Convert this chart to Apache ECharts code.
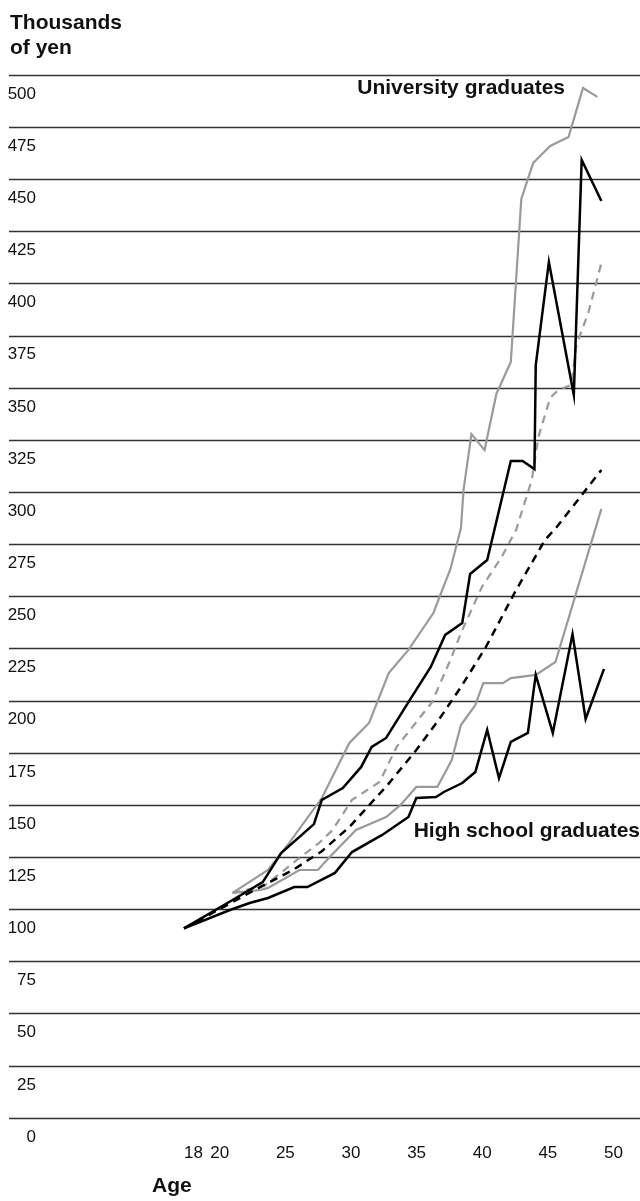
<!DOCTYPE html>
<html>
<head>
<meta charset="utf-8">
<script src="https://cdn.jsdelivr.net/npm/echarts@6/dist/echarts.min.js"></script>
<style>
  html, body { margin: 0; padding: 0; background: #fff; }
  #chart { width: 640px; height: 1201px; }
</style>
</head>
<body>
<div id="chart"></div>
<script>
// ---- Data ----
const yTicks = [0, 25, 50, 75, 100, 125, 150, 175, 200, 225, 250, 275, 300, 325, 350, 375, 400, 425, 450, 475, 500];
const xTickLabels = [18, 20, 25, 30, 35, 40, 45, 50];

// High school graduates (black)
const hsLarge = [[18,100],[21.7,113.6],[24.0,122.2],[25.4,136.1],[27.9,150],[28.5,161.6],[30.1,167.3],[31.5,177.4],[32.3,187],[33.4,191.3],[35.1,208.5],[36.8,225.3],[37.9,240.7],[39.2,246.4],[39.8,269.9],[41.1,276.6],[42.9,324.1],[43.8,324.1],[44.7,320.2],[44.8,370.1],[45.8,419.5],[47.7,355.7],[48.3,468.4],[49.8,448.7]];
const hsAverage = [[18,100],[24.0,120.5],[26.3,128],[28.5,137],[30.6,148.6],[33.5,168.7],[35.7,185.5],[37.4,199.9],[39.1,215.7],[41.0,234.9],[43.3,262.2],[45.5,286.2],[46.4,292.4],[49.8,319.8]];
const hsSmall = [[18,100],[21.5,108.8],[23.0,112.2],[24.4,114.6],[26.4,119.8],[27.4,119.8],[29.5,126.6],[30.8,136.6],[33.1,144.8],[35.1,153.4],[35.7,162.5],[37.2,163],[37.8,165.4],[39.2,169.7],[40.2,175],[41.1,195.1],[42.0,172],[42.9,189.4],[44.2,193.7],[44.8,221.5],[46.1,193.7],[47.6,241.1],[48.6,200.4],[50.0,224.4]];

// University graduates (grey)
const univLarge = [[21.7,117],[24.4,128],[26.0,140.9],[28.5,162.5],[30.6,188.9],[32.1,198.5],[33.6,222.4],[35.1,233.5],[37.0,251.2],[38.3,272.3],[39.1,291.9],[39.3,310.2],[39.9,337],[40.9,329.3],[41.8,356.2],[42.9,371.5],[43.7,449.7],[44.6,466.9],[45.9,475.1],[47.3,479.4],[48.4,502.9],[49.5,498.6]];
const univAverage = [[21.7,117],[24.1,120.3],[26.6,132.8],[28.3,141],[29.3,147],[30.8,161.6],[32.9,170.2],[34.2,187],[35.4,196.5],[36.9,208.5],[38.3,228.7],[39.1,241.6],[40.7,263.7],[42.2,278],[43.3,291],[44.5,315],[45.0,335.6],[45.9,354.3],[46.5,358],[47.5,360.5],[47.9,379.7],[48.8,395],[49.8,419]];
const univSmall = [[21.7,117],[23.8,118.4],[24.4,119.4],[26.8,128],[28.2,128],[29.1,134.2],[31.1,147.2],[33.4,153.4],[34.5,159.2],[35.7,167.8],[37.3,167.8],[38.4,180.7],[39.1,197.5],[40.2,207.1],[40.8,217.6],[42.3,217.6],[42.9,220],[44.8,221.5],[46.3,227.7],[49.8,301.1]];

const FONT = '"Liberation Sans", Arial, sans-serif';
const GREY = '#9a9a9a';

const chart = echarts.init(document.getElementById('chart'), null, { renderer: 'canvas' });

function lineSeries(name, data, color, width, dashed, z) {
  return {
    name, type: 'line', data, xAxisIndex: 0, yAxisIndex: 0,
    showSymbol: false, symbol: 'none', clip: false, z,
    lineStyle: { color, width, type: dashed ? [8, 6] : 'solid', cap: 'butt', join: 'miter' },
    animation: false
  };
}

chart.setOption({
  animation: false,
  backgroundColor: '#fff',
  title: {
    text: 'Thousands\nof yen',
    left: 5, top: 6,
    textStyle: { fontFamily: FONT, fontSize: 21, fontWeight: 'bold', color: '#111', lineHeight: 25 }
  },
  grid: [
    { left: 184, right: 36, top: 94, bottom: 64 },   // data grid
    { left: 9, right: 0, top: 75, bottom: 83 }       // rule lines
  ],
  xAxis: [
    {
      type: 'value', gridIndex: 0, min: 18, max: 50,
      axisLine: { show: false }, axisTick: { show: false }, splitLine: { show: false },
      axisLabel: {
        customValues: xTickLabels,
        fontFamily: FONT, fontSize: 17, color: '#111',
        align: 'left', verticalAlign: 'middle', margin: 16
      }
    },
    {
      type: 'value', gridIndex: 1, min: 0, max: 1, show: false
    }
  ],
  yAxis: [
    {
      type: 'value', gridIndex: 0, min: 0, max: 500, interval: 25,
      axisLine: { show: false }, axisTick: { show: false }, splitLine: { show: false },
      axisLabel: {
        fontFamily: FONT, fontSize: 17, color: '#111',
        align: 'right', margin: 148,
        formatter: v => yTicks.includes(v) ? String(v) : ''
      }
    },
    {
      type: 'value', gridIndex: 1, min: 0, max: 500, interval: 25,
      axisLine: { show: false }, axisTick: { show: false }, axisLabel: { show: false },
      splitLine: { show: true, lineStyle: { color: '#333', width: 1.3 } }
    }
  ],
  series: [
    lineSeries('University graduates – large firms', univLarge, GREY, 2.2, false, 2),
    lineSeries('University graduates – average', univAverage, GREY, 2.2, true, 2),
    lineSeries('University graduates – small firms', univSmall, GREY, 2.2, false, 2),
    lineSeries('High school graduates – large firms', hsLarge, '#000', 2.5, false, 3),
    lineSeries('High school graduates – average', hsAverage, '#000', 2.5, true, 3),
    lineSeries('High school graduates – small firms', hsSmall, '#000', 2.5, false, 3)
  ],
  graphic: [
    { type: 'text', right: 75, top: 78,
      style: { text: 'University graduates', font: 'bold 21px ' + FONT, fill: '#111' } },
    { type: 'text', right: 0, top: 821,
      style: { text: 'High school graduates', font: 'bold 21px ' + FONT, fill: '#111' } },
    { type: 'text', left: 152, top: 1176,
      style: { text: 'Age', font: 'bold 21px ' + FONT, fill: '#111' } }
  ]
});
</script>
</body>
</html>
